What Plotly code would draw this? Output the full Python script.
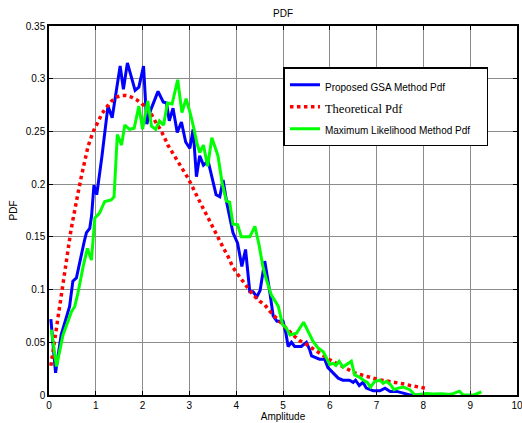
import plotly.graph_objects as go

# Proposed GSA method estimate
gsa_x = [0.04, 0.14, 0.26, 0.44, 0.51, 0.585, 0.76, 0.80, 0.87, 0.91, 0.96, 1.02, 1.13, 1.26, 1.35,
         1.52, 1.59, 1.675, 1.84, 1.92, 2.02, 2.09, 2.17, 2.33, 2.44, 2.51, 2.57, 2.65, 2.74, 2.83,
         2.92, 3.01, 3.08, 3.15, 3.22, 3.30, 3.40, 3.47, 3.57, 3.65, 3.72, 3.80, 3.93, 4.03, 4.12,
         4.20, 4.29, 4.36, 4.44, 4.51, 4.56, 4.61, 4.72, 4.79, 4.87, 5.00, 5.06, 5.11, 5.18, 5.25,
         5.39, 5.50, 5.57, 5.61, 5.78, 5.89, 5.96, 6.07, 6.18, 6.28, 6.42, 6.50, 6.55, 6.63, 6.71,
         6.78, 6.93, 7.07, 7.18, 7.29, 7.43, 7.57, 7.71, 7.93, 8.10]
gsa_y = [0.072, 0.021, 0.057, 0.084, 0.108, 0.111, 0.147, 0.154, 0.158, 0.170, 0.199, 0.190, 0.226, 0.274, 0.263,
         0.312, 0.290, 0.315, 0.289, 0.292, 0.312, 0.257, 0.270, 0.288, 0.278, 0.277, 0.260, 0.272, 0.249, 0.259,
         0.240, 0.234, 0.252, 0.207, 0.227, 0.218, 0.222, 0.208, 0.190, 0.188, 0.204, 0.182, 0.154, 0.144, 0.122,
         0.138, 0.098, 0.098, 0.093, 0.099, 0.112, 0.127, 0.097, 0.075, 0.070, 0.070, 0.059, 0.046, 0.050, 0.046,
         0.046, 0.050, 0.043, 0.037, 0.034, 0.034, 0.026, 0.021, 0.016, 0.014, 0.014, 0.012, 0.014, 0.009, 0.012,
         0.0065, 0.004, 0.004, 0.0065, 0.0034, 0.0034, 0.0018, 0.0, 0.0, 0.0]

# Theoretical density
theo_x = [0.04, 0.09, 0.14, 0.19, 0.25, 0.30, 0.35, 0.41, 0.46, 0.51, 0.56, 0.62, 0.69, 0.76, 0.835,
          0.906, 0.976, 1.05, 1.12, 1.19, 1.26, 1.33, 1.44, 1.55, 1.65, 1.76, 1.87, 1.97, 2.08, 2.19,
          2.29, 2.38, 2.47, 2.54, 2.65, 2.76, 2.87, 2.97, 3.08, 3.19, 3.29, 3.40, 3.51, 3.61, 3.72,
          3.83, 3.93, 4.04, 4.15, 4.25, 4.36, 4.50, 4.61, 4.72, 4.82, 4.93, 5.04, 5.14, 5.25, 5.36,
          5.46, 5.57, 5.68, 5.78, 5.89, 6.00, 6.11, 6.32, 6.53, 6.67, 6.78, 6.92, 7.07, 7.21, 7.35,
          7.47, 7.60, 7.72, 7.85, 7.98, 8.10]
theo_y = [0.0277, 0.043, 0.0587, 0.076, 0.092, 0.1077, 0.122, 0.138, 0.1536, 0.166, 0.176, 0.1915, 0.207, 0.223, 0.236,
          0.245, 0.253, 0.259, 0.266, 0.2706, 0.275, 0.2785, 0.2826, 0.284, 0.284, 0.2826, 0.280, 0.277, 0.272, 0.266,
          0.258, 0.252, 0.244, 0.237, 0.229, 0.221, 0.2137, 0.2058, 0.196, 0.187, 0.1773, 0.168, 0.158, 0.149, 0.140,
          0.131, 0.121, 0.114, 0.1077, 0.1025, 0.095, 0.089, 0.0856, 0.0793, 0.0745, 0.0698, 0.065, 0.0603, 0.0555, 0.0514,
          0.0492, 0.046, 0.0429, 0.0397, 0.036, 0.0334, 0.0308, 0.0255, 0.021, 0.0192, 0.0176, 0.016, 0.0144, 0.0135, 0.0122,
          0.0113, 0.0103, 0.009, 0.008, 0.0071, 0.006]

# Maximum likelihood estimate
ml_x = [0.05, 0.16, 0.30, 0.48, 0.55, 0.62, 0.73, 0.82, 0.906, 0.98, 1.08, 1.19, 1.33, 1.39, 1.46,
        1.55, 1.62, 1.72, 1.82, 1.92, 2.00, 2.11, 2.19, 2.28, 2.36, 2.45, 2.53, 2.63, 2.75, 2.84,
        2.93, 3.02, 3.10, 3.16, 3.22, 3.30, 3.39, 3.48, 3.61, 3.70, 3.79, 3.86, 3.93, 4.03, 4.11,
        4.20, 4.29, 4.40, 4.49, 4.57, 4.64, 4.75, 4.90, 4.99, 5.07, 5.15, 5.29, 5.44, 5.54, 5.64,
        5.75, 5.86, 6.00, 6.07, 6.13, 6.20, 6.28, 6.39, 6.46, 6.53, 6.63, 6.72, 6.80, 6.87, 6.96,
        7.07, 7.14, 7.21, 7.30, 7.37, 7.46, 7.57, 7.71, 7.82, 7.95, 8.07, 8.21, 8.39, 8.55, 8.65,
        8.77, 8.85, 9.08, 9.15, 9.24]
ml_y = [0.062, 0.027, 0.057, 0.079, 0.084, 0.097, 0.122, 0.139, 0.128, 0.168, 0.1725, 0.1836, 0.185, 0.188, 0.247,
        0.237, 0.256, 0.252, 0.253, 0.274, 0.252, 0.279, 0.255, 0.252, 0.260, 0.256, 0.277, 0.276, 0.299, 0.268,
        0.281, 0.267, 0.252, 0.239, 0.230, 0.237, 0.217, 0.244, 0.227, 0.201, 0.184, 0.183, 0.162, 0.1615, 0.150,
        0.150, 0.150, 0.160, 0.142, 0.122, 0.110, 0.095, 0.084, 0.067, 0.0635, 0.057, 0.0587, 0.069, 0.060, 0.051,
        0.0445, 0.041, 0.029, 0.030, 0.028, 0.032, 0.0265, 0.030, 0.032, 0.019, 0.017, 0.014, 0.012, 0.0075, 0.013,
        0.014, 0.011, 0.013, 0.0097, 0.005, 0.0065, 0.0075, 0.005, 0.0, 0.001, 0.0015, 0.001, 0.0012, 0.0005, 0.0015,
        0.0036, 0.0, 0.0, 0.0015, 0.003]

x_ticks = [0, 1, 2, 3, 4, 5, 6, 7, 8, 9, 10]
y_ticks = [0, 0.05, 0.1, 0.15, 0.2, 0.25, 0.3, 0.35]
y_tick_text = ["0", "0.05", "0.1", "0.15", "0.2", "0.25", "0.3", "0.35"]

SANS = "Liberation Sans, Arial, sans-serif"

fig = go.Figure()
fig.add_trace(go.Scatter(
    x=gsa_x, y=gsa_y, mode="lines",
    line=dict(color="#0000ff", width=3),
    name='<span style="font-size:10px">Proposed GSA Method Pdf</span>'))
fig.add_trace(go.Scatter(
    x=theo_x, y=theo_y, mode="lines",
    line=dict(color="#ff0000", width=3.5, dash="dot"),
    name='<span style="font-family:Liberation Serif;font-size:12.5px">Theoretical Pdf</span>'))
fig.add_trace(go.Scatter(
    x=ml_x, y=ml_y, mode="lines",
    line=dict(color="#00ff00", width=3),
    name='<span style="font-size:10px">Maximum Likelihood Method Pdf'
         '\u00a0\u00a0\u00a0\u00a0</span>'))

axis_common = dict(
    showgrid=True, gridcolor="#8c8c8c", gridwidth=1,
    showline=True, linecolor="black", mirror="ticks",
    ticks="inside", ticklen=4, tickwidth=1, tickcolor="black",
    zeroline=False, automargin=False, ticklabeloverflow="allow",
    tickfont=dict(family=SANS, size=10, color="black"),
)

fig.update_layout(
    width=522, height=423,
    margin=dict(l=49, r=5, t=26, b=28),
    paper_bgcolor="white", plot_bgcolor="white",
    font=dict(family=SANS, size=10, color="black"),
    title=dict(text="PDF", x=0.5, xref="paper", xanchor="center",
               y=1 - 13 / 423, yanchor="middle",
               font=dict(family=SANS, size=10, color="black")),
    xaxis=dict(range=[0, 10], tickvals=x_ticks, linewidth=2,
               title=dict(text="Amplitude", standoff=1,
                          font=dict(family=SANS, size=10, color="black")),
               **axis_common),
    yaxis=dict(range=[0, 0.35], tickvals=y_ticks, ticktext=y_tick_text, linewidth=1.5,
               title=dict(text="PDF", standoff=6,
                          font=dict(family=SANS, size=10, color="black")),
               **axis_common),
    showlegend=True,
    legend=dict(
        x=0.501, y=0.888, xanchor="left", yanchor="top",
        bgcolor="white", bordercolor="black", borderwidth=1.5,
        font=dict(family=SANS, size=14.6, color="black"),
        itemwidth=30, tracegroupgap=0,
    ),
)

fig.write_html("out.html")
